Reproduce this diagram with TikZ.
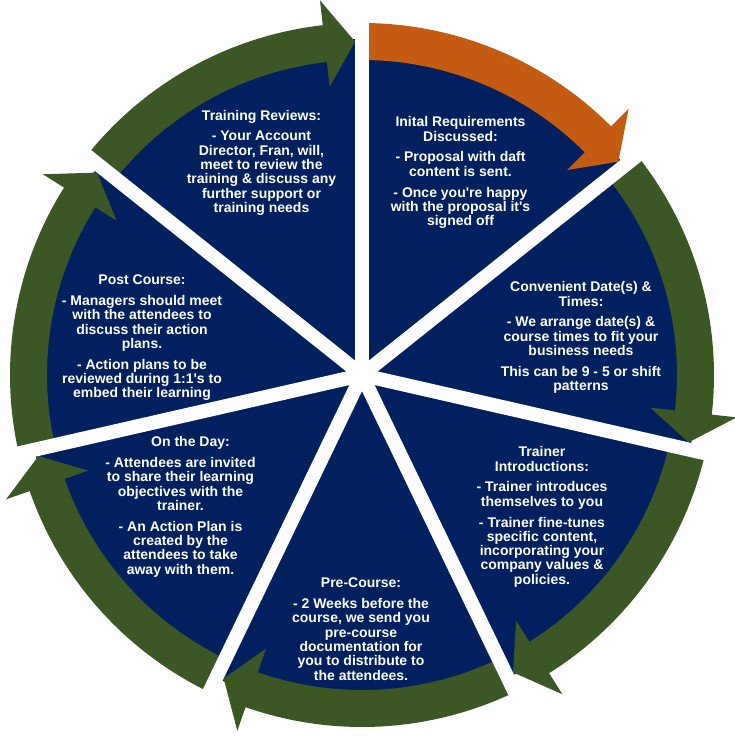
\documentclass[tikz,border=0pt]{standalone}
\usepackage{fontspec}
\setmainfont{Liberation Sans}
\definecolor{navy}{HTML}{002060}
\definecolor{arrowgreen}{HTML}{3A5724}
\definecolor{arroworange}{HTML}{C55A11}
\tikzset{
  segtext/.style={text=white, font=\fontsize{14}{14.3}\selectfont\bfseries, align=center, inner sep=0pt, anchor=north},
  gapline/.style={white, line width=14pt},
}
\newcommand{\ringarrow}[3]{%
  \pgfmathsetmacro{\baseang}{#3+6.4}%
  \pgfmathsetmacro{\tipang}{#3+1.2}%
  \fill[#1] (#2:352) arc[start angle=#2, end angle=\baseang, radius=352]
    -- (\baseang:377) -- (\tipang:333.5) -- (\baseang:290) -- (\baseang:315)
    arc[start angle=\baseang, end angle=#2, radius=315] -- cycle;
}
\begin{document}
\begin{tikzpicture}[x=1pt,y=1pt]
\useasboundingbox (-362,-361) rectangle (372,375);
% pie
\fill[navy] (0,0) circle[radius=336];
% ring arrows
\ringarrow{arroworange}{90}{38.571}
\ringarrow{arrowgreen}{38.571}{-12.857}
\ringarrow{arrowgreen}{-12.857}{-64.286}
\ringarrow{arrowgreen}{-64.286}{-115.714}
\ringarrow{arrowgreen}{-115.714}{-167.143}
\ringarrow{arrowgreen}{192.857}{141.429}
\ringarrow{arrowgreen}{141.429}{90}
% gaps
\coordinate (c) at (0,0);
\foreach \g in {90,38.571,-12.857,-64.286,-115.714,-167.143,141.429}
  \draw[gapline] (c) -- (\g:385);
% texts
\node[segtext] (tr) at (-100.5,265.2) {Training Reviews:\\[6.5pt]- Your Account\\Director, Fran, will,\\meet to review the\\training \& discuss any\\further support or\\training needs};
\node[segtext] (ir) at (98.5,258.5) {Inital Requirements\\Discussed:\\[6.5pt]- Proposal with daft\\content is sent.\\[6.5pt]- Once you\textquotesingle re happy\\with the proposal it\textquotesingle s\\signed off};
\node[segtext] (cd) at (219,93.5) {Convenient Date(s) \&\\Times:\\[6.5pt]- We arrange date(s) \&\\course times to fit your\\business needs\\[6.5pt]This can be 9 - 5 or shift\\patterns};
\node[segtext] (ti) at (180,-71.5) {Trainer\\Introductions:\\[6.5pt]- Trainer introduces\\themselves to you\\[6.5pt]- Trainer fine-tunes\\specific content,\\incorporating your\\company values \&\\policies.};
\node[segtext] (pc) at (-1,-202.8) {Pre-Course:\\[6.5pt]- 2 Weeks before the\\course, we send you\\pre-course\\documentation for\\you to distribute to\\the attendees.};
\node[segtext] (od) at (-181.5,-61.5) {\hspace*{20pt}On the Day:\\[6.5pt]- Attendees are invited\\to share their learning\\objectives with the\\trainer.\\[6.5pt]- An Action Plan is\\created by the\\attendees to take\\away with them.};
\node[segtext] (po) at (-220,100.2) {Post Course:\\[6.5pt]- Managers should meet\\with the attendees to\\discuss their action\\plans.\\[6.5pt]- Action plans to be\\reviewed during 1:1\textquotesingle s to\\embed their learning};
\end{tikzpicture}
\end{document}
